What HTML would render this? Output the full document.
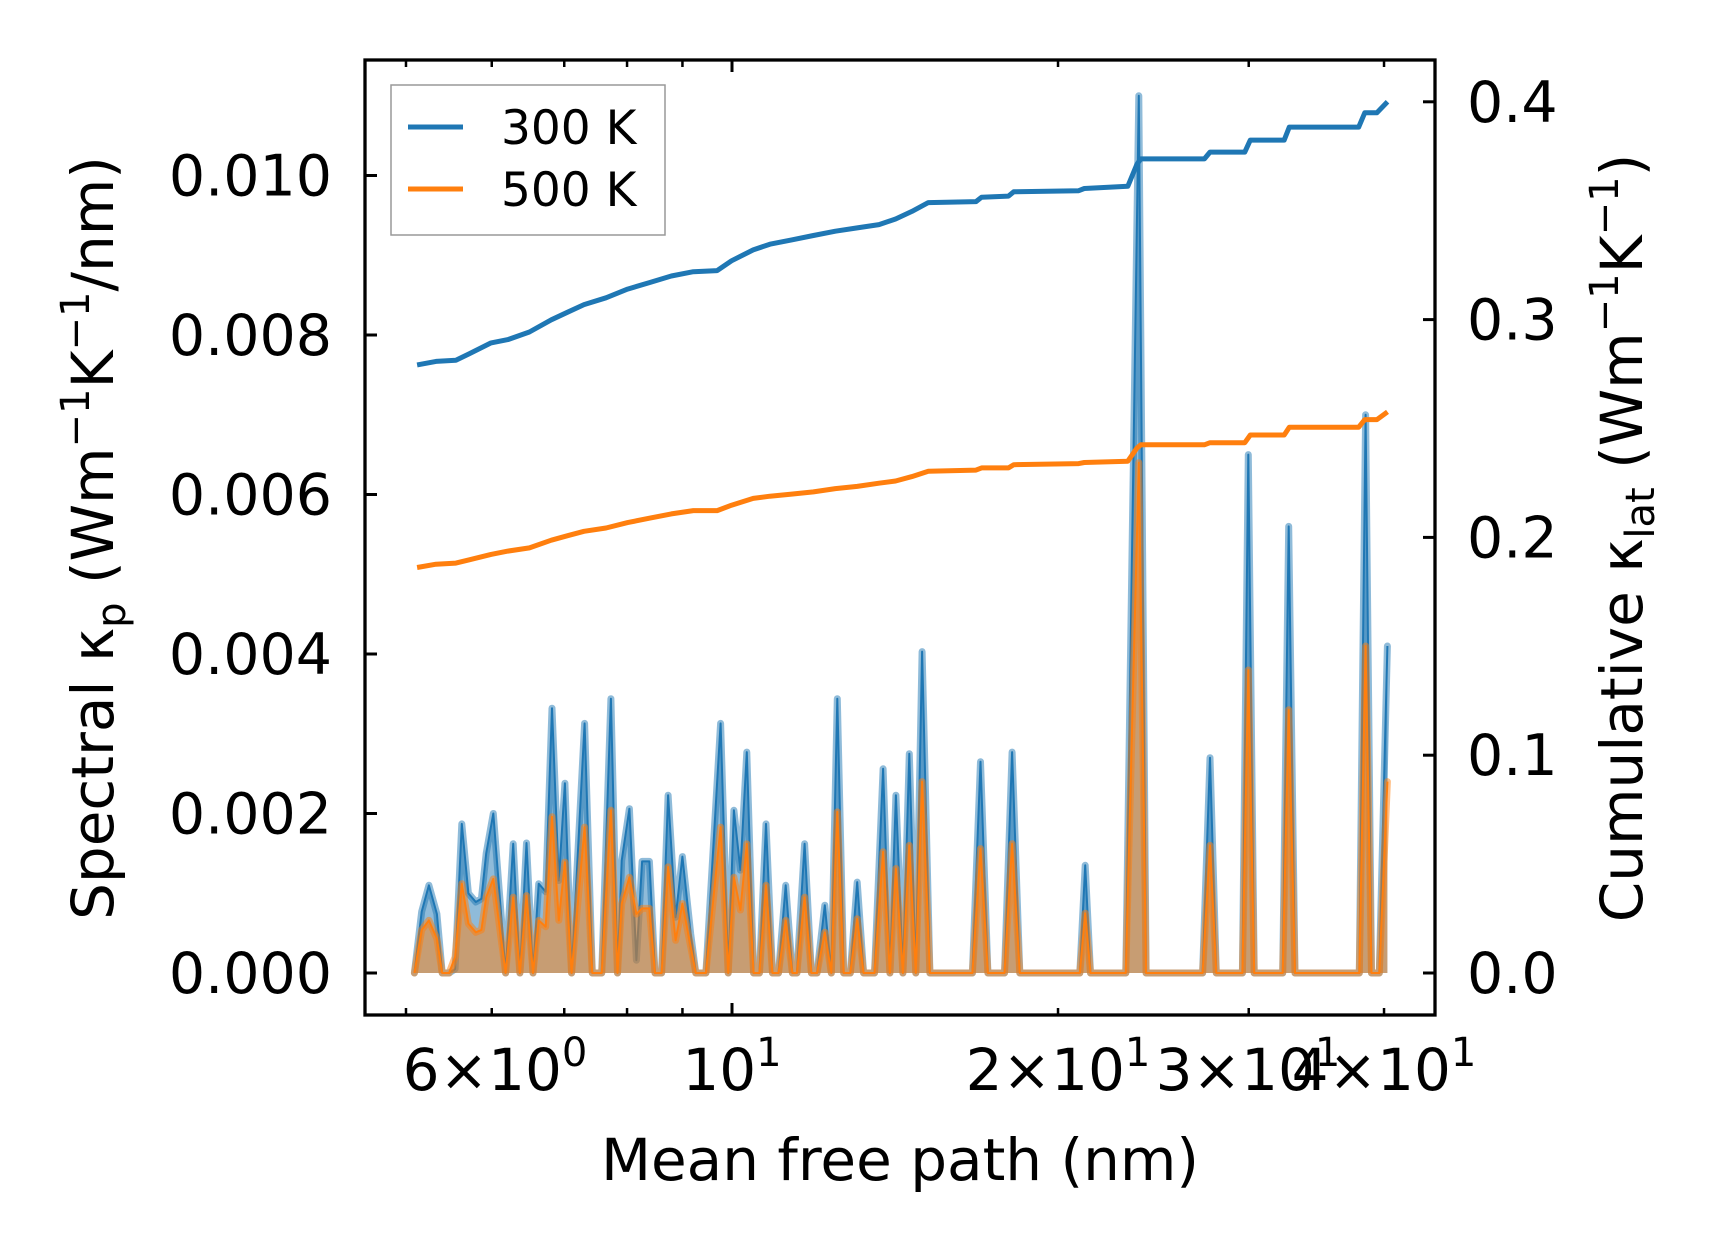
<!DOCTYPE html>
<html><head><meta charset="utf-8"><style>
html,body{margin:0;padding:0;background:#fff;}
svg{display:block;font-family:"DejaVu Sans","Liberation Sans",sans-serif;}
</style></head><body>
<svg id="chart" width="1716" height="1253" viewBox="0 0 1716 1253" xmlns="http://www.w3.org/2000/svg">
<rect x="0" y="0" width="1716" height="1253" fill="#fff"/>
<g id="marks"></g>
<g id="axes"></g>
</svg>
<script>
// Spectral data (x in nm, values in W m^-1 K^-1 / nm)
const specX = [5.09,5.17,5.25,5.34,5.40,5.48,5.55,5.63,5.71,5.80,5.87,5.93,6.02,6.18,6.28,6.37,6.46,6.55,6.63,6.73,6.82,6.92,7.01,7.11,7.31,7.43,7.58,7.73,7.84,7.91,8.04,8.16,8.26,8.39,8.49,8.61,8.73,8.87,9.00,9.16,9.26,9.46,9.76,9.92,10.04,10.18,10.32,10.47,10.60,10.75,10.90,11.04,11.21,11.37,11.48,11.67,11.84,11.98,12.18,12.35,12.51,12.68,12.86,13.05,13.23,13.54,13.79,13.99,14.17,14.38,14.58,14.78,14.98,15.23,16.67,16.96,17.23,17.85,18.14,18.44,20.95,21.19,21.43,23.10,23.75,24.12,27.20,27.63,28.0,29.6,29.97,30.35,32.25,32.66,33.1,37.95,38.46,38.95,39.6,40.29];
const spec300 = [0,0.00077,0.0011,0.00074,0,0,0.00005,0.00187,0.001,0.00089,0.00093,0.0015,0.002,0,0.00162,0,0.00163,0,0.00112,0.00102,0.00332,0.00116,0.00238,0,0.00313,0,0,0.00344,0,0.00141,0.00206,0.00016,0.0014,0.0014,0,0,0.00223,0.0007,0.00146,0.00049,0,0,0.00313,0,0.00204,0.00129,0.00277,0,0,0.00187,0,0,0.0011,0,0,0.00162,0,0,0.00085,0,0.00344,0,0,0.00114,0,0,0.00256,0,0.00223,0,0.00275,0,0.00403,0,0,0.00265,0,0,0.00277,0,0,0.00135,0,0,0.0110,0,0,0.0027,0,0,0.0065,0,0,0.0056,0,0,0.0070,0,0,0.0041];
const spec500 = [0,0.00054,0.00066,0.00043,0,0,0.0002,0.00112,0.00062,0.00051,0.00054,0.00095,0.00118,0,0.00095,0,0.00097,0,0.00066,0.00058,0.00196,0.00066,0.00139,0,0.00183,0,0,0.00204,0,0.00087,0.0012,0.00074,0.00081,0.00081,0,0,0.00133,0.00041,0.00087,0.00033,0,0,0.00183,0,0.0012,0.00079,0.00162,0,0,0.0011,0,0,0.00066,0,0,0.00095,0,0,0.00051,0,0.00202,0,0,0.00068,0,0,0.00152,0,0.00131,0,0.0016,0,0.0024,0,0,0.00156,0,0,0.00162,0,0,0.00075,0,0,0.0064,0,0,0.0016,0,0,0.0038,0,0,0.0033,0,0,0.0041,0,0,0.0024];
// Cumulative data (W m^-1 K^-1)
const cumX = [5.12,5.33,5.56,5.72,5.99,6.21,6.50,6.81,7.05,7.30,7.65,8.01,8.39,8.79,9.21,9.69,9.99,10.46,10.84,11.35,11.89,12.46,13.05,13.67,14.16,14.66,15.18,16.80,17.0,18.0,18.2,20.9,21.15,23.2,23.65,23.85,27.3,27.63,29.75,30.1,32.35,32.7,37.9,38.4,39.4,40.3];
const cum300 = [0.2792,0.2808,0.2813,0.2843,0.2893,0.2908,0.2943,0.2999,0.3034,0.3069,0.31,0.314,0.317,0.32,0.322,0.3225,0.327,0.332,0.3346,0.3366,0.3386,0.3406,0.3421,0.3436,0.3462,0.3497,0.3537,0.3542,0.3562,0.3567,0.3587,0.3592,0.3602,0.3612,0.3713,0.3738,0.3738,0.3769,0.3769,0.3824,0.3824,0.3884,0.3884,0.395,0.395,0.4];
const cum500 = [0.1862,0.1877,0.1882,0.1897,0.1922,0.1937,0.1952,0.1987,0.2008,0.2028,0.2043,0.2068,0.2088,0.2108,0.2123,0.2123,0.2148,0.2179,0.2189,0.2199,0.2209,0.2224,0.2234,0.2249,0.2259,0.2279,0.2304,0.2309,0.2319,0.2319,0.2334,0.2339,0.2344,0.235,0.241,0.2425,0.2425,0.2435,0.2435,0.247,0.247,0.2506,0.2506,0.2541,0.2541,0.2576];
const yTicksL = [0,0.002,0.004,0.006,0.008,0.010];
const yTickLabelsL = ["0.000","0.002","0.004","0.006","0.008","0.010"];
const yTicksR = [0,0.1,0.2,0.3,0.4];
const yTickLabelsR = ["0.0","0.1","0.2","0.3","0.4"];
const xMinor = [5,6,7,8,9,20,30,40];
const xMajor = [10];

const L=365,R=1435,T=60,B=1015;
const C300="#1f77b4",C500="#ff7f0e";
function xs(v){return 732+1083*Math.log10(v/10);}
function yl(v){return 973-v/0.002*159.5;}
function yr(v){return 973-v/0.1*217.8;}
const NS="http://www.w3.org/2000/svg";
function mk(tag,attrs,parent){const e=document.createElementNS(NS,tag);for(const k in attrs)e.setAttribute(k,attrs[k]);parent.appendChild(e);return e;}
const marks=document.getElementById('marks'),axes=document.getElementById('axes');

function spectral(vals,col,name){
  let pts=specX.map((x,i)=>xs(x).toFixed(1)+","+yl(vals[i]).toFixed(1));
  const area=mk('polygon',{points:xs(specX[0]).toFixed(1)+","+yl(0)+" "+pts.join(" ")+" "+xs(specX[specX.length-1]).toFixed(1)+","+yl(0),fill:col,'fill-opacity':0.5},marks);
  
  
  const thick=mk('polyline',{points:pts.join(" "),fill:'none',stroke:col,'stroke-opacity':0.5,'stroke-width':7,'stroke-linejoin':'round','stroke-linecap':'round'},marks);
  
  
  const thin=mk('polyline',{points:pts.join(" "),fill:'none',stroke:col,'stroke-width':2,'stroke-linejoin':'round'},marks);
  
  
}
spectral(spec300,C300,'spectral-300k');
spectral(spec500,C500,'spectral-500k');
function cum(vals,col,name){
  const pts=cumX.map((x,i)=>xs(x).toFixed(1)+","+yr(vals[i]).toFixed(1)).join(" ");
  const l=mk('polyline',{points:pts,fill:'none',stroke:col,'stroke-width':5,'stroke-linejoin':'round'},marks);
  
  
}
cum(cum300,C300,'cumulative-300k');
cum(cum500,C500,'cumulative-500k');

const fr=mk('rect',{x:L,y:T,width:R-L,height:B-T,fill:'none',stroke:'#000','stroke-width':3.3},axes);


yTicksL.forEach((v,i)=>{
  const y=yl(v);
  const t=mk('line',{x1:L,x2:L+12,y1:y,y2:y,stroke:'#000','stroke-width':3},axes);
  
  
  const tx=mk('text',{x:332,y:y+20,'text-anchor':'end','font-size':57,fill:'#000'},axes);
  tx.textContent=yTickLabelsL[i];
  
  
});
yTicksR.forEach((v,i)=>{
  const y=yr(v);
  const t=mk('line',{x1:R-12,x2:R,y1:y,y2:y,stroke:'#000','stroke-width':3},axes);
  
  
  const tx=mk('text',{x:1467,y:y+20,'text-anchor':'start','font-size':57,fill:'#000'},axes);
  tx.textContent=yTickLabelsR[i];
  
  
});
xMajor.forEach(v=>{
  const x=xs(v);
  [[B,B-12],[T,T+12]].forEach(p=>{
    const t=mk('line',{x1:x,x2:x,y1:p[0],y2:p[1],stroke:'#000','stroke-width':3},axes);
    
    
  });
});
xMinor.forEach(v=>{
  const x=xs(v);
  [[B,B-7],[T,T+7]].forEach(p=>{
    const t=mk('line',{x1:x,x2:x,y1:p[0],y2:p[1],stroke:'#000','stroke-width':2.5},axes);
    
    
  });
});
</script>
<svg style="position:absolute;left:0;top:0" width="1716" height="1253" viewBox="0 0 1716 1253" xmlns="http://www.w3.org/2000/svg" font-family="DejaVu Sans, Liberation Sans, sans-serif">
<g font-size="58" fill="#000">
<text x="495" y="1090" text-anchor="middle">6×10<tspan font-size="40" dy="-24">0</tspan></text>
<text x="732" y="1090" text-anchor="middle">10<tspan font-size="40" dy="-24">1</tspan></text>
<text x="1058" y="1090" text-anchor="middle">2×10<tspan font-size="40" dy="-24">1</tspan></text>
<text x="1248" y="1090" text-anchor="middle">3×10<tspan font-size="40" dy="-24">1</tspan></text>
<text x="1384" y="1090" text-anchor="middle">4×10<tspan font-size="40" dy="-24">1</tspan></text>
<text x="900" y="1180" text-anchor="middle">Mean free path (nm)</text>
<text transform="translate(113,538) rotate(-90)" text-anchor="middle">Spectral κ<tspan font-size="40" dy="12">p</tspan><tspan dy="-12"> (Wm</tspan><tspan font-size="40" dy="-24">−1</tspan><tspan dy="24">K</tspan><tspan font-size="40" dy="-24">−1</tspan><tspan dy="24">/nm)</tspan></text>
<text transform="translate(1642,538) rotate(-90)" text-anchor="middle">Cumulative κ<tspan font-size="40" dy="12">lat</tspan><tspan dy="-12"> (Wm</tspan><tspan font-size="40" dy="-24">−1</tspan><tspan dy="24">K</tspan><tspan font-size="40" dy="-24">−1</tspan><tspan dy="24">)</tspan></text>
</g>
<g>
<rect x="391" y="85" width="274" height="150" fill="#fff" fill-opacity="0.8" stroke="#999" stroke-width="1.5"/>
<line x1="408" x2="463" y1="127" y2="127" stroke="#1f77b4" stroke-width="5"/>
<text x="501" y="144" font-size="47">300 K</text>
<line x1="408" x2="463" y1="189" y2="189" stroke="#ff7f0e" stroke-width="5"/>
<text x="501" y="206" font-size="47">500 K</text>
</g>
</svg>
</body></html>
